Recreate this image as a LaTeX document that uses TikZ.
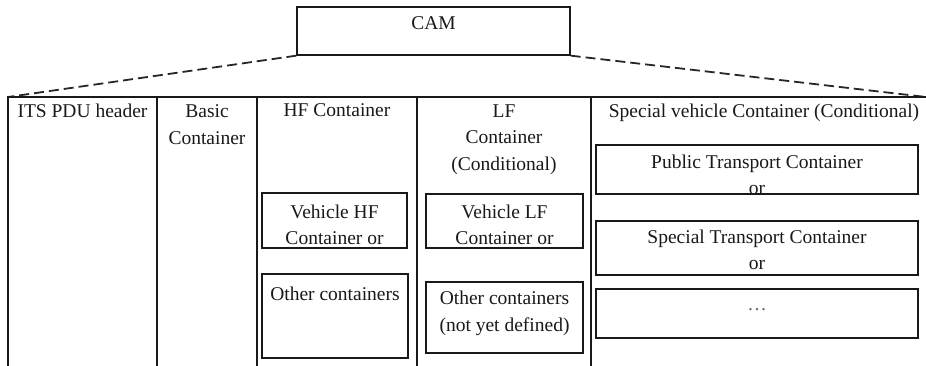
\documentclass[tikz,border=0pt]{standalone}
\usepackage{fontspec}
\setmainfont{Liberation Serif}
\usetikzlibrary{fit}
\begin{document}
\begin{tikzpicture}[x=1pt,y=-1pt,
  rule/.style={line width=1.3pt, line cap=rect, draw=black!90},
  dashline/.style={line width=1.8pt, draw=black!85, dash pattern=on 10pt off 5pt},
  box/.style={draw=black!90, line width=1.3pt, inner sep=0pt},
  txt/.style={inner sep=0pt, anchor=base, align=center, text=black!90,
    font=\fontsize{19.5}{26.5}\selectfont}]
\useasboundingbox (0,0) rectangle (926,365);

% CAM box
\node[box, fit={(297,7) (570,55)}] (cam) {};
\node[txt] (camt) at (433.5,29.5) {CAM};

% table frame coordinates
\coordinate (tl) at (8,97);
\coordinate (tr) at (926,97);
\coordinate (c1) at (157,97);
\coordinate (c2) at (257,97);
\coordinate (c3) at (417,97);
\coordinate (c4) at (591,97);
\coordinate (b0) at (8,366);
\coordinate (b1) at (157,366);
\coordinate (b2) at (257,366);
\coordinate (b3) at (417,366);
\coordinate (b4) at (591,366);

\draw[dashline] (cam.south west) -- (tl);
\draw[dashline] (cam.south east) -- (tr);

\draw[rule] (tl) -- (tr);
\draw[rule] (tl) -- (b0);
\draw[rule] (c1) -- (b1);
\draw[rule] (c2) -- (b2);
\draw[rule] (c3) -- (b3);
\draw[rule] (c4) -- (b4);

% column headers (anchor = baseline of last line)
\node[txt] (its) at (82.5,117) {ITS PDU header};
\node[txt] (basic) at (207,144) {Basic\\Container};
\node[txt] (hf) at (337,116.5) {HF Container};
\node[txt] (lf) at (504,170) {LF\\Container\\(Conditional)};
\node[txt] (sv) at (764,117) {Special vehicle Container (Conditional)};

% HF inner boxes
\node[box, fit={(262,193) (407,248)}] (vhf) {};
\node[txt] (vhft) at (334.5,244.5) {Vehicle HF\\Container or};
\node[box, fit={(262,274) (408,358)}] (ohf) {};
\node[txt] (ohft) at (335,300) {Other containers};

% LF inner boxes
\node[box, fit={(426,194) (583,248)}] (vlf) {};
\node[txt] (vlft) at (504.5,244.5) {Vehicle LF\\Container or};
\node[box, fit={(426,282) (583,353)}] (olf) {};
\node[txt] (olft) at (504.5,331) {Other containers\\(not yet defined)};

% Special vehicle inner boxes
\node[box, fit={(596,145) (918,194)}] (pt) {};
\node[txt] (ptt) at (757,194.5) {Public Transport Container\\or};
\node[box, fit={(596,221) (918,275)}] (st) {};
\node[txt] (stt) at (757,269.5) {Special Transport Container\\or};
\node[box, fit={(596,289) (918,338)}] (dd) {};
\node[txt, text=black!60] (ddt) at (757,310) {\ldots};
\end{tikzpicture}
\end{document}
